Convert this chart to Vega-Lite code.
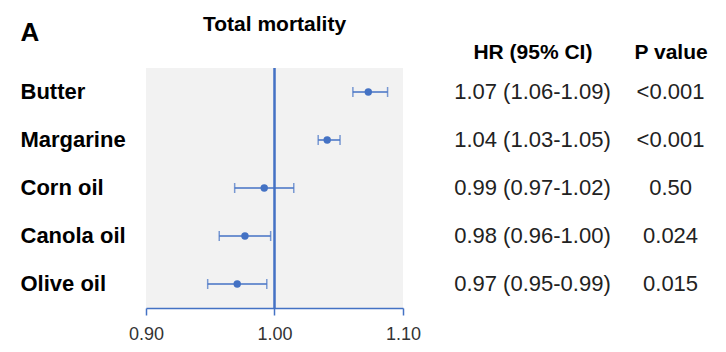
{
  "$schema": "https://vega.github.io/schema/vega-lite/v6.json",
  "autosize": {"type": "pad"},
  "padding": {"left": 20, "top": 14, "right": 0, "bottom": 0},
  "background": "white",
  "config": {"font": "Liberation Sans", "view": {"stroke": null}},
  "bounds": "flush",
  "spacing": 88,
  "data": {
    "values": [
      {"food": "Butter", "hr": 1.073, "lo": 1.061, "hi": 1.088, "HR (95% CI)": "1.07 (1.06-1.09)", "P value": "<0.001"},
      {"food": "Margarine", "hr": 1.041, "lo": 1.034, "hi": 1.051, "HR (95% CI)": "1.04 (1.03-1.05)", "P value": "<0.001"},
      {"food": "Corn oil", "hr": 0.992, "lo": 0.969, "hi": 1.015, "HR (95% CI)": "0.99 (0.97-1.02)", "P value": "0.50"},
      {"food": "Canola oil", "hr": 0.977, "lo": 0.957, "hi": 0.997, "HR (95% CI)": "0.98 (0.96-1.00)", "P value": "0.024"},
      {"food": "Olive oil", "hr": 0.971, "lo": 0.948, "hi": 0.994, "HR (95% CI)": "0.97 (0.95-0.99)", "P value": "0.015"}
    ]
  },
  "hconcat": [
    {
      "width": 257,
      "height": 240,
      "view": {"fill": "#f2f2f2", "stroke": null},
      "title": {"text": "Total mortality", "fontSize": 21, "fontWeight": "bold", "color": "black", "offset": -16, "anchor": "middle"},
      "layer": [
        {
          "mark": {"type": "rule", "color": "#4472c4", "strokeWidth": 1.5},
          "encoding": {
            "x": {"datum": 1, "type": "quantitative"}
          }
        },
        {
          "mark": {"type": "rule", "color": "#4472c4", "strokeWidth": 1.5},
          "encoding": {
            "x": {"field": "lo", "type": "quantitative", "scale": {"domain": [0.9, 1.1], "nice": false, "zero": false},
              "axis": {"values": [0.9, 1.0, 1.1], "format": ".2f", "title": null, "grid": false, "domainColor": "#4472c4", "domainWidth": 1.5, "tickColor": "#4472c4", "tickWidth": 1.5, "tickSize": 7, "labelFontSize": 18, "labelColor": "#333333", "labelPadding": 10, "labelFlush": false}},
            "x2": {"field": "hi"},
            "y": {"field": "food", "type": "nominal", "sort": null, "scale": {"paddingInner": 0, "paddingOuter": 0},
              "axis": {"title": "A", "titleAngle": 0, "titleFontSize": 26, "titleFontWeight": "bold", "titleColor": "black", "titleAlign": "left", "titleBaseline": "middle", "titleX": -126, "titleY": -36,
                "labelAlign": "left", "labelPadding": 126, "tickSize": 0, "ticks": false, "domain": false, "grid": false, "labelFontSize": 22, "labelFontWeight": "bold", "labelColor": "black"}}
          }
        },
        {
          "mark": {"type": "tick", "color": "#4472c4", "thickness": 1.5, "size": 10, "orient": "vertical"},
          "encoding": {
            "x": {"field": "lo", "type": "quantitative"},
            "y": {"field": "food", "type": "nominal", "sort": null}
          }
        },
        {
          "mark": {"type": "tick", "color": "#4472c4", "thickness": 1.5, "size": 10, "orient": "vertical"},
          "encoding": {
            "x": {"field": "hi", "type": "quantitative"},
            "y": {"field": "food", "type": "nominal", "sort": null}
          }
        },
        {
          "mark": {"type": "circle", "color": "#4472c4", "size": 55, "opacity": 1},
          "encoding": {
            "x": {"field": "hr", "type": "quantitative"},
            "y": {"field": "food", "type": "nominal", "sort": null}
          }
        }
      ]
    },
    {
      "width": 221,
      "height": 240,
      "view": {"stroke": null},
      "transform": [{"fold": ["HR (95% CI)", "P value"], "as": ["col", "val"]}],
      "mark": {"type": "text", "fontSize": 22, "color": "#222222", "align": "center", "baseline": "middle"},
      "encoding": {
        "y": {"field": "food", "type": "nominal", "sort": null, "axis": null, "scale": {"paddingInner": 0, "paddingOuter": 0}},
        "x": {"field": "col", "type": "nominal", "sort": null, "scale": {"type": "point", "padding": 0.3},
          "axis": {"orient": "top", "title": null, "domain": false, "ticks": false, "tickSize": 0, "labelAngle": 0, "labelFontSize": 21, "labelFontWeight": "bold", "labelColor": "black", "labelPadding": 6}},
        "text": {"field": "val"}
      }
    }
  ]
}
